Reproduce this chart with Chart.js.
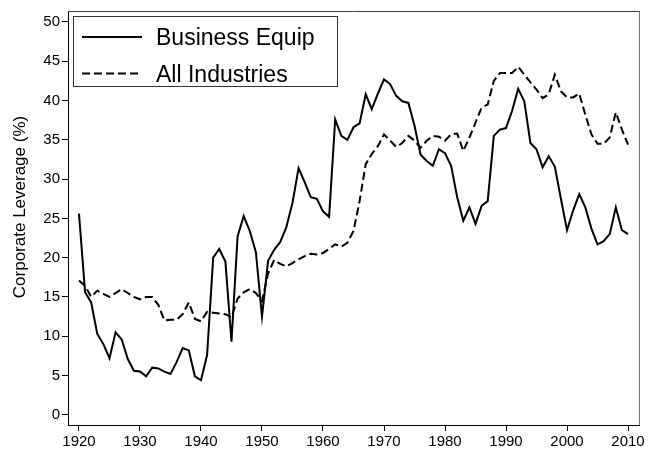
<!DOCTYPE html>
<html>
<head>
<meta charset="utf-8">
<script src="https://cdn.jsdelivr.net/npm/chart.js@4/dist/chart.umd.min.js"></script>
<style>
  html, body { margin: 0; padding: 0; background: #fff; }
  #wrap { width: 660px; height: 453px; }
</style>
</head>
<body>
<div id="wrap"><canvas id="leverageChart" width="660" height="453"></canvas></div>
<script>
// tahun (sumbu x)
const years = [
  1920, 1921, 1922, 1923, 1924, 1925, 1926, 1927, 1928, 1929,
  1930, 1931, 1932, 1933, 1934, 1935, 1936, 1937, 1938, 1939,
  1940, 1941, 1942, 1943, 1944, 1945, 1946, 1947, 1948, 1949,
  1950, 1951, 1952, 1953, 1954, 1955, 1956, 1957, 1958, 1959,
  1960, 1961, 1962, 1963, 1964, 1965, 1966, 1967, 1968, 1969,
  1970, 1971, 1972, 1973, 1974, 1975, 1976, 1977, 1978, 1979,
  1980, 1981, 1982, 1983, 1984, 1985, 1986, 1987, 1988, 1989,
  1990, 1991, 1992, 1993, 1994, 1995, 1996, 1997, 1998, 1999,
  2000, 2001, 2002, 2003, 2004, 2005, 2006, 2007, 2008, 2009,
  2010
];

const businessEquip = [
  25.6, 15.6, 14.3, 10.3, 9.0, 7.2, 10.5, 9.6, 7.1, 5.6,
  5.5, 4.9, 6.0, 5.9, 5.5, 5.2, 6.7, 8.5, 8.2, 4.9,
  4.4, 7.6, 20.0, 21.1, 19.5, 9.3, 22.7, 25.3, 23.4, 20.7,
  12.5, 19.6, 21.0, 22.0, 23.9, 27.0, 31.4, 29.6, 27.7, 27.5,
  25.9, 25.2, 37.6, 35.5, 35.0, 36.6, 37.1, 40.8, 38.9, 40.9,
  42.7, 42.1, 40.6, 39.9, 39.7, 36.8, 33.1, 32.3, 31.7, 33.8,
  33.3, 31.7, 27.7, 24.7, 26.4, 24.3, 26.6, 27.2, 35.5, 36.3,
  36.5, 38.7, 41.5, 39.9, 34.6, 33.8, 31.5, 32.9, 31.6, 27.5,
  23.5, 26.0, 28.1, 26.4, 23.7, 21.7, 22.1, 23.0, 26.4, 23.5,
  23.0
];

const allIndustries = [
  17.1, 16.4, 15.0, 15.8, 15.4, 15.0, 15.5, 16.0, 15.5, 15.0,
  14.7, 15.0, 15.0, 14.0, 12.0, 12.1, 12.1, 12.8, 14.3, 12.2,
  11.9, 13.1, 13.0, 12.9, 12.8, 12.4, 14.8, 15.6, 16.0, 15.5,
  14.5, 18.0, 19.7, 19.2, 18.9, 19.3, 19.8, 20.2, 20.5, 20.4,
  20.6, 21.1, 21.7, 21.4, 21.9, 23.4, 27.2, 31.9, 33.2, 34.2,
  35.7, 34.9, 34.1, 34.6, 35.5, 34.9, 34.0, 34.9, 35.5, 35.4,
  34.9, 35.7, 35.8, 33.6, 35.3, 37.2, 39.1, 39.5, 42.5, 43.5,
  43.5, 43.5, 44.3, 43.3, 42.3, 41.4, 40.3, 40.8, 43.3, 41.2,
  40.4, 40.4, 40.9, 38.2, 35.7, 34.5, 34.5, 35.3, 38.5, 36.3,
  34.4
];

const xTicks = [1920, 1930, 1940, 1950, 1960, 1970, 1980, 1990, 2000, 2010];
const yTicks = [0, 5, 10, 15, 20, 25, 30, 35, 40, 45, 50];
const yTitle = "Corporate Leverage (%)";

const FONT = "'Liberation Sans', Arial, Helvetica, sans-serif";

// gabung tahun + nilai jadi titik {x, y}
function toPoints(vals) {
  return years.map((yr, i) => ({ x: yr, y: vals[i] }));
}

// bingkai atas & kanan (abu-abu) seperti grafik aslinya
const frameBox = {
  id: "frameBox",
  afterDraw(chart) {
    const { ctx, chartArea: a } = chart;
    ctx.save();
    ctx.lineWidth = 1;
    ctx.strokeStyle = "#444";
    ctx.beginPath();
    ctx.moveTo(a.left, a.top + 0.5);
    ctx.lineTo(a.right, a.top + 0.5);
    ctx.stroke();
    ctx.strokeStyle = "#777";
    ctx.beginPath();
    ctx.moveTo(a.right + 0.5, a.top);
    ctx.lineTo(a.right + 0.5, a.bottom);
    ctx.stroke();
    ctx.restore();
  },
};

// judul sumbu y digambar manual supaya posisinya pas (sedikit di atas tengah)
const yAxisTitle = {
  id: "yAxisTitle",
  afterDraw(chart) {
    const ctx = chart.ctx;
    ctx.save();
    ctx.translate(20, 207);
    ctx.rotate(-Math.PI / 2);
    ctx.fillStyle = "#000";
    ctx.font = "17px " + FONT;
    ctx.textAlign = "center";
    ctx.textBaseline = "middle";
    ctx.fillText(yTitle, 0, 0);
    ctx.restore();
  },
};

// legenda di dalam area plot, pojok kiri atas, pakai kotak
const boxLegend = {
  id: "boxLegend",
  afterDraw(chart) {
    const ctx = chart.ctx;
    const left = 73.5, top = 16.5, w = 264, h = 70;
    ctx.save();
    ctx.fillStyle = "#fff";
    ctx.fillRect(left, top, w, h);
    ctx.strokeStyle = "#333";
    ctx.lineWidth = 1;
    ctx.strokeRect(left, top, w, h);

    const rows = [37, 73.5];
    const baselines = [45, 82];
    chart.data.datasets.forEach((ds, i) => {
      ctx.beginPath();
      ctx.setLineDash(ds.borderDash || []);
      ctx.lineWidth = ds.borderWidth;
      ctx.strokeStyle = ds.borderColor;
      ctx.moveTo(82, rows[i]);
      ctx.lineTo(142, rows[i]);
      ctx.stroke();
      ctx.setLineDash([]);
      ctx.fillStyle = "#000";
      ctx.font = "23px " + FONT;
      ctx.textBaseline = "alphabetic";
      ctx.fillText(ds.label, 156, baselines[i]);
    });
    ctx.restore();
  },
};

const ctx = document.getElementById("leverageChart");
new Chart(ctx, {
  type: "line",
  data: {
    datasets: [
      {
        label: "Business Equip",
        data: toPoints(businessEquip),
        borderColor: "#000",
        borderWidth: 2,
        pointRadius: 0,
        tension: 0,
      },
      {
        label: "All Industries",
        data: toPoints(allIndustries),
        borderColor: "#000",
        borderWidth: 2,
        borderDash: [8, 4],
        pointRadius: 0,
        tension: 0,
      },
    ],
  },
  options: {
    responsive: false,
    animation: false,
    layout: { padding: { top: 10, right: 21, left: 0, bottom: 0 } },
    plugins: {
      legend: { display: false },
      tooltip: { enabled: false },
    },
    scales: {
      x: {
        type: "linear",
        min: 1918.2,
        max: 2011.8,
        afterBuildTicks: (s) => { s.ticks = xTicks.map((v) => ({ value: v })); },
        ticks: {
          color: "#000",
          font: { family: FONT, size: 15 },
          padding: 2,
          maxRotation: 0,
          callback: (v) => String(v),
        },
        grid: { drawOnChartArea: false, tickLength: 6, tickColor: "#000" },
        border: { color: "#000", width: 1 },
        afterFit: (s) => { s.height = 28; },
      },
      y: {
        min: -1.3,
        max: 51.4,
        afterBuildTicks: (s) => { s.ticks = yTicks.map((v) => ({ value: v })); },
        ticks: {
          color: "#000",
          font: { family: FONT, size: 15 },
          padding: 2,
        },
        grid: { drawOnChartArea: false, tickLength: 6, tickColor: "#000" },
        border: { color: "#000", width: 1 },
        afterFit: (s) => { s.width = 68; },
      },
    },
  },
  plugins: [frameBox, yAxisTitle, boxLegend],
});
</script>
</body>
</html>
